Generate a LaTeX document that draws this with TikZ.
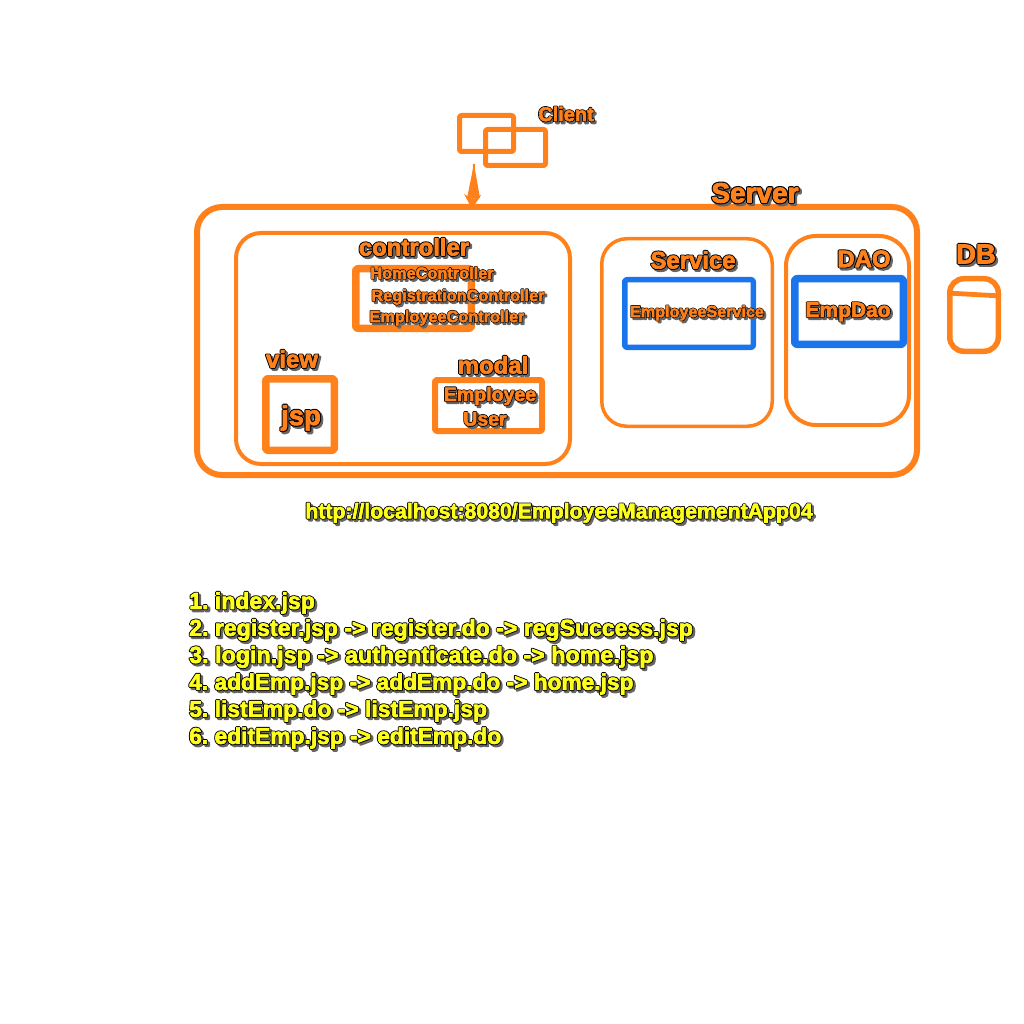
\documentclass[tikz,border=0pt]{standalone}
\usepackage{fontspec}
\setmainfont{Liberation Sans}
\newfontface\strokeface{Liberation Sans Bold}[FakeBold=11]
\newfontface\fillface{Liberation Sans Bold}[FakeBold=3]
\usepackage{tikz}
\usetikzlibrary{arrows.meta}

\definecolor{boxorange}{HTML}{FF811C}
\definecolor{boxblue}{HTML}{1A75EC}
\definecolor{urlyellow}{HTML}{FFFF1E}

\newcommand{\halotext}[2]{%
\rlap{\kern1.5pt\raisebox{-1.5pt}{\strokeface\textcolor{black!60}{#2}}}%
\rlap{\strokeface\textcolor{black}{#2}}%
\textcolor{#1}{\fillface #2}}

\tikzset{
  pxbox/.style n args={4}{draw=boxorange,inner sep=0pt,line width=#3*0.25mm,rounded corners=#4*0.25mm,
    minimum width=#1*0.25mm,minimum height=#2*0.25mm},
  bluebox/.style={draw=boxblue},
  txt/.style={inner sep=0pt,font=\fontsize{#1}{#1}\selectfont\frenchspacing},
}

\begin{document}
\begin{tikzpicture}[x=0.25mm,y=-0.25mm,line join=round]
\useasboundingbox (0,0) rectangle (1024,1024);

% client
\node [pxbox={54}{36}{5}{2}] (nodeClientA) at (486.5,133.5) {};
\node [pxbox={60}{36}{5}{2}] (nodeClientB) at (515.5,147.5) {};
\node [txt=14.2] (nodeClient) at (566,115) {\halotext{boxorange}{Client}};

% request arrow
\coordinate (arrowTail) at (474,164);
\coordinate (arrowTip) at (472,209);
\draw [boxorange,line width=0.5mm,-{Stealth[length=3.6mm,width=4.2mm]}] (arrowTail) -- (arrowTip);
\fill [boxorange] (arrowTail) -- (467,198) -- (480,198) -- cycle;

% server
\node [pxbox={720}{268}{6}{25}] (nodeServer) at (557,341) {};
\node [txt=19.9] (nodeServerText) at (755,194) {\halotext{boxorange}{Server}};

% web layer
\node [pxbox={334}{231}{4}{25}] (nodeWeb) at (403,348.5) {};
\node [pxbox={115.5}{59.5}{7.5}{2}] (nodeControllerBox) at (413.5,298.5) {};
\node [pxbox={68.5}{71.5}{7.5}{2}] (nodeJspBox) at (300,414.5) {};
\node [pxbox={107}{51}{6}{2}] (nodeModalBox) at (488.5,405.5) {};
\node [txt=17] (nodeController) at (414,248) {\halotext{boxorange}{controller}};
\node [txt=11.6] (nodeHome) at (432,274) {\halotext{boxorange}{HomeController}};
\node [txt=11.6] (nodeRegistration) at (458,298) {\halotext{boxorange}{RegistrationController}};
\node [txt=11.6] (nodeEmployeeCtl) at (447,319) {\halotext{boxorange}{EmployeeController}};
\node [txt=17] (nodeView) at (292,360) {\halotext{boxorange}{view}};
\node [txt=19.5] (nodeJsp) at (301,419) {\halotext{boxorange}{jsp}};
\node [txt=17] (nodeModal) at (493,366) {\halotext{boxorange}{modal}};
\node [txt=13.9] (nodeEmployee) at (490,397) {\halotext{boxorange}{Employee}};
\node [txt=13.9] (nodeUser) at (485,420) {\halotext{boxorange}{User}};

% service
\node [pxbox={170.5}{187.5}{3.5}{25}] (nodeServiceBox) at (687,332.5) {};
\node [pxbox={128.5}{67.5}{5.5}{2},bluebox] (nodeEmpServiceBox) at (689,313.5) {};
\node [txt=17] (nodeService) at (693,261) {\halotext{boxorange}{Service}};
\node [txt=11.5] (nodeEmpService) at (697,314) {\halotext{boxorange}{EmployeeService}};

% dao
\node [pxbox={123}{189}{4}{30}] (nodeDaoBox) at (847.5,330.5) {};
\node [pxbox={108.5}{65.5}{7.5}{2},bluebox] (nodeEmpDaoBox) at (849,311.5) {};
\node [txt=17] (nodeDao) at (864,260) {\halotext{boxorange}{DAO}};
\node [txt=14.9] (nodeEmpDao) at (848,313) {\halotext{boxorange}{EmpDao}};

% db
\node [pxbox={48.5}{72.5}{5.5}{14}] (nodeDbBox) at (974,315) {};
\coordinate (dbLeft) at (947,293);
\coordinate (dbRight) at (1001,296);
\draw [boxorange,line width=1.2mm] (dbLeft) -- (dbRight);
\node [txt=19.5] (nodeDb) at (976,255) {\halotext{boxorange}{DB}};

% url and urls list
\node [txt=15.1] (nodeUrl) at (559,514) {\halotext{urlyellow}{http://localhost:8080/EmployeeManagementApp04}};

\foreach \i/\ypos/\stepsize/\steptext in {1/604/16.4/1. index.jsp,
  2/631/16.4/2. register.jsp -> register.do -> regSuccess.jsp,
  3/658/16.55/3. login.jsp -> authenticate.do -> home.jsp,
  4/685/16.15/4. addEmp.jsp -> addEmp.do -> home.jsp,
  5/712/16.25/5. listEmp.do -> listEmp.jsp,
  6/739/16.2/6. editEmp.jsp -> editEmp.do}
  \node [txt=\stepsize,anchor=west] (nodeStep\i) at (189,\ypos) {\halotext{urlyellow}{\steptext}};

\end{tikzpicture}
\end{document}
